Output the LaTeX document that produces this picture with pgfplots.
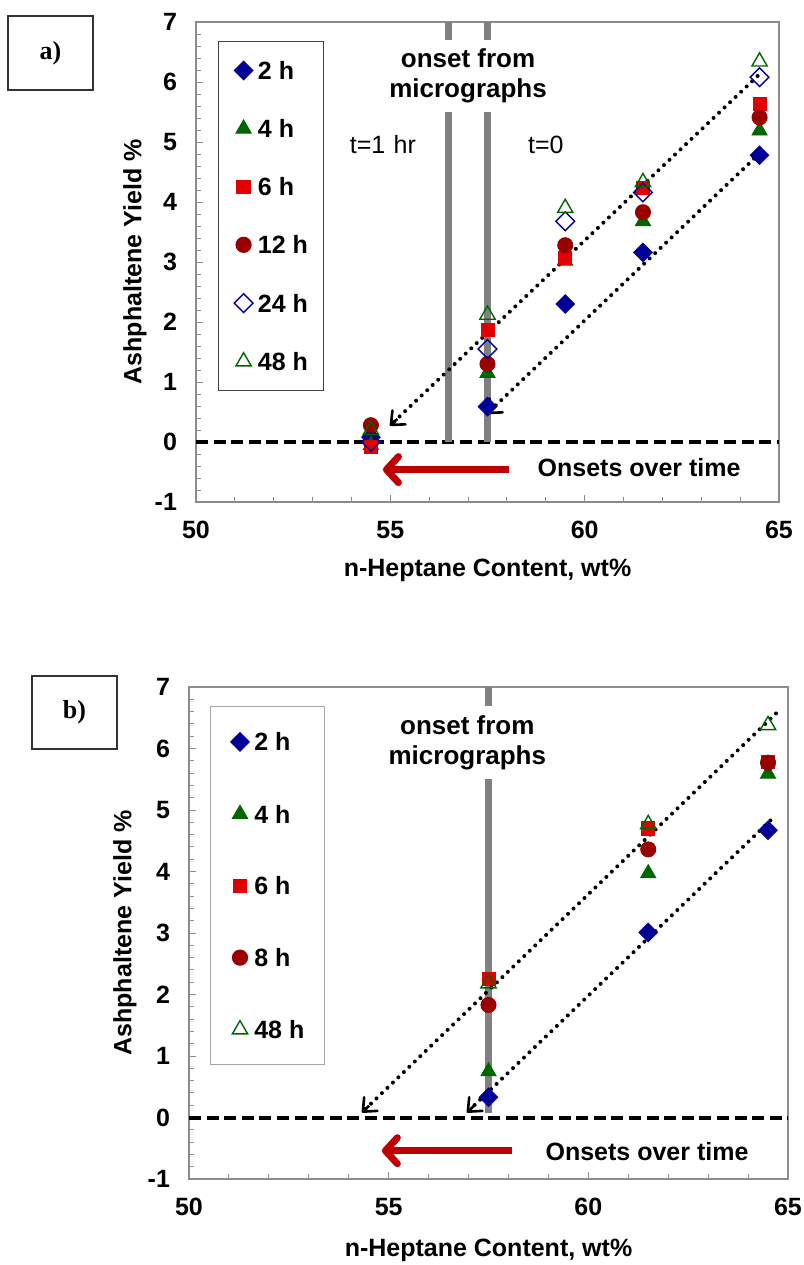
\documentclass[border=0pt]{standalone}
\usepackage{pgfplots}
\pgfplotsset{compat=1.18}
\usepackage{fontspec}
\setmainfont{Liberation Sans}
\newfontfamily\tnr{Liberation Serif}
\usetikzlibrary{arrows.meta}

\definecolor{cblue}{HTML}{000099}
\definecolor{cgreen}{HTML}{006600}
\definecolor{cred}{HTML}{E00000}
\definecolor{cdred}{HTML}{990000}
\definecolor{carrow}{HTML}{C00000}
\definecolor{cframe}{HTML}{8C8C8C}
\definecolor{cvline}{HTML}{808080}

\pgfplotsset{
 myaxis/.style={
  scale only axis,
  xmin=50, xmax=65, ymin=-1, ymax=7,
  xtick={50,55,60,65}, ytick={-1,0,1,2,3,4,5,6,7},
  minor x tick num=4, minor y tick num=4,
  tick align=inside, xtick pos=bottom, ytick pos=left,
  major tick length=3.5pt, minor tick length=2.5pt,
  tick style={cframe, line width=0.5pt},
  axis line style={cframe, line width=1pt},
  tick label style={font=\fontsize{12.5}{14}\selectfont\bfseries},
  /pgf/number format/assume math mode=true,
  xticklabel style={yshift=-6pt},
  yticklabel style={xshift=-6pt},
  label style={font=\fontsize{12.5}{15}\selectfont\bfseries},
  xlabel={n-Heptane Content, wt\%},
  ylabel={Ashphaltene Yield \%},
  clip=false,
  legend image code/.code={\draw[#1] plot coordinates {(0pt,0pt)};},
  legend cell align=left,
 },
 s2/.style={only marks, mark=square*, mark options={rotate=45, fill=cblue, draw=cblue}, mark size=3.3pt},
 s4/.style={only marks, mark=triangle*, mark options={fill=cgreen, draw=cgreen}, mark size=4.4pt},
 s6/.style={only marks, mark=square*, mark options={fill=cred, draw=cred}, mark size=3.3pt},
 s12/.style={only marks, mark=*, mark options={fill=cdred, draw=cdred}, mark size=3.8pt},
 s24/.style={only marks, mark=square, mark options={rotate=45, draw=cblue, line width=0.7pt}, mark size=3.3pt},
 s48/.style={only marks, mark=triangle, mark options={draw=cgreen, line width=0.7pt}, mark size=4.4pt},
 zline/.style={black, line width=2pt, dash pattern=on 6pt off 2.8pt, forget plot},
 gline/.style={cvline, line width=3.5pt, forget plot},
 dline/.style={black, line width=2pt, dash pattern=on 0pt off 3.8pt, line cap=round, forget plot},
 ahead/.style={black, line width=1.3pt, forget plot, -{Straight Barb[length=5.5pt,width=9.5pt,round]}},
 rarrow/.style={carrow, line width=3.5pt, forget plot, -{Straight Barb[length=6pt,width=13pt,line width=3.5pt,round]}},
}

\begin{document}
\begin{tikzpicture}[x=1pt,y=1pt]
\path[use as bounding box] (0,0) rectangle (402,-632.5);
\draw[black!80, line width=0.6pt] (4,-8) rectangle (46.5,-45);
\node[font=\tnr\bfseries\fontsize{13}{15}\selectfont] at (25.25,-26.5) {a)};
\draw[black!80, line width=0.6pt] (16,-338) rectangle (58.5,-374.5);
\node[font=\tnr\bfseries\fontsize{13}{15}\selectfont] at (37.25,-356.25) {b)};

% ---------------- panel a ----------------
\begin{axis}[myaxis, at={(98pt,-251pt)}, anchor=south west, width=291.5pt, height=240pt,
  xlabel style={at={(axis description cs:0.5,0)}, anchor=center, yshift=-34pt},
  ylabel style={at={(axis description cs:-0.1046,0.5)}, anchor=center},
  legend style={at={(axis cs:50.56,6.69)}, anchor=north west, draw=black!75, line width=0.5pt,
    font=\fontsize{12.5}{14}\selectfont\bfseries, row sep=20pt, inner xsep=8pt, inner ysep=10pt,
    nodes={inner sep=0pt, text height=9pt, text depth=0pt}, column sep=2.5pt},
]
\addplot[zline] coordinates {(50,0) (65,0)};
\addplot[gline] coordinates {(56.5,0) (56.5,7)};
\addplot[gline] coordinates {(57.5,0) (57.5,7)};
\node[fill=white, align=center, inner xsep=2pt, inner ysep=4.5pt, font=\fontsize{13}{15}\selectfont\bfseries] at (axis cs:57,6.1) {onset from\\micrographs};
\node[font=\fontsize{12.5}{15}\selectfont] at (axis cs:54.81,4.95) {t=1\,\,hr};
\node[font=\fontsize{12.5}{15}\selectfont] at (axis cs:59.0,4.95) {t=0};
\node[font=\fontsize{12.5}{15}\selectfont\bfseries] at (axis cs:61.4,-0.43) {Onsets over time};
\addplot[rarrow] coordinates {(58.05,-0.46) (54.81,-0.46)};

\addplot[s2] coordinates {(54.5,0.08) (57.5,0.59) (59.5,2.30) (61.5,3.16) (64.5,4.78)};
\addlegendentry{2 h}
\addplot[s4] coordinates {(54.5,-0.05) (57.5,1.15) (59.5,3.02) (61.5,3.68) (64.5,5.19)};
\addlegendentry{4 h}
\addplot[s6] coordinates {(54.5,-0.08) (57.5,1.87) (59.5,3.07) (61.5,4.24) (64.5,5.64)};
\addlegendentry{6 h}
\addplot[s12] coordinates {(54.5,0.28) (57.5,1.30) (59.5,3.28) (61.5,3.83) (64.5,5.41)};
\addlegendentry{12 h}
\addplot[s24] coordinates {(54.5,0.0) (57.5,1.55) (59.5,3.68) (61.5,4.16) (64.5,6.08)};
\addlegendentry{24 h}
\addplot[s48] coordinates {(54.5,0.2) (57.5,2.12) (59.5,3.90) (61.5,4.33) (64.5,6.34)};
\addlegendentry{48 h}

\addplot[dline] coordinates {(64.45,6.1) (55.05,0.31)};
\addplot[dline] coordinates {(64.5,4.81) (57.55,0.51)};
\addplot[ahead] coordinates {(55.18,0.385) (54.99,0.27)};
\addplot[ahead] coordinates {(57.68,0.585) (57.49,0.47)};
\end{axis}

% ---------------- panel b ----------------
\begin{axis}[myaxis, at={(94.5pt,-589.5pt)}, anchor=south west, width=299.5pt, height=246pt,
  xlabel style={at={(axis description cs:0.5,0)}, anchor=center, yshift=-35.5pt},
  ylabel style={at={(axis description cs:-0.1068,0.5)}, anchor=center},
  legend style={at={(axis cs:50.53,6.69)}, anchor=north west, draw=black!35, line width=0.5pt,
    font=\fontsize{12.5}{14}\selectfont\bfseries, row sep=26.9pt, inner xsep=10pt, inner ysep=13pt,
    nodes={inner sep=0pt, text height=9pt, text depth=0pt}, column sep=2.5pt},
]
\addplot[zline] coordinates {(50,0) (65,0)};
\addplot[gline] coordinates {(57.5,0.07) (57.5,7)};
\node[fill=white, align=center, inner xsep=2pt, inner ysep=4.5pt, font=\fontsize{13}{15}\selectfont\bfseries] at (axis cs:56.97,6.1) {onset from\\micrographs};
\node[font=\fontsize{12.5}{15}\selectfont\bfseries] at (axis cs:61.47,-0.56) {Onsets over time};
\addplot[rarrow] coordinates {(58.08,-0.54) (54.83,-0.54)};

\addplot[s2] coordinates {(57.5,0.33) (61.5,3.01) (64.5,4.67)};
\addlegendentry{2 h}
\addplot[s4] coordinates {(57.5,0.75) (61.5,3.97) (64.5,5.59)};
\addlegendentry{4 h}
\addplot[s6] coordinates {(57.5,2.25) (61.5,4.70) (64.5,5.78)};
\addlegendentry{6 h}
\addplot[s12] coordinates {(57.5,1.83) (61.5,4.36) (64.5,5.77)};
\addlegendentry{8 h}
\addplot[s48] coordinates {(57.5,2.18) (61.5,4.77) (64.5,6.38)};
\addlegendentry{48 h}

\addplot[dline] coordinates {(64.7,6.57) (54.39,0.12)};
\addplot[dline] coordinates {(64.56,4.83) (57.02,0.12)};
\addplot[ahead] coordinates {(54.51,0.193) (54.33,0.08)};
\addplot[ahead] coordinates {(57.14,0.193) (56.96,0.08)};
\end{axis}
\end{tikzpicture}
\end{document}
